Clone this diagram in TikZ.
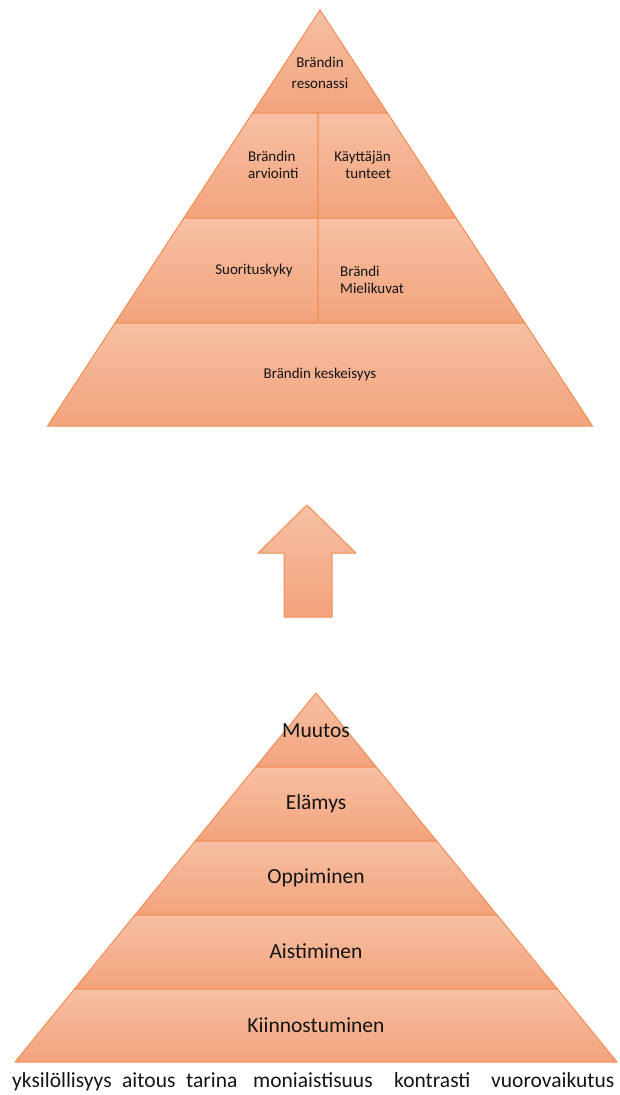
\documentclass[tikz,border=0pt]{standalone}
\usepackage{fontspec}
\setmainfont{Carlito}
\begin{document}
\begin{tikzpicture}[x=1pt,y=-1pt,
  seg/.style={top color=segTop,bottom color=segBot,draw=segLine,line width=1pt,line join=round},
  small/.style={font=\fontsize{15}{17}\selectfont,text=txt,inner sep=0pt},
  big/.style={font=\fontsize{21.5}{25}\selectfont,text=txt,inner sep=0pt},
  word/.style={font=\fontsize{21.5}{25}\selectfont,text=txt,inner sep=0pt,anchor=base west},
]
\definecolor{segTop}{RGB}{247,192,164}
\definecolor{segBot}{RGB}{243,163,124}
\definecolor{segLine}{RGB}{241,142,84}
\definecolor{txt}{RGB}{20,20,20}
\useasboundingbox (0,0) rectangle (619,1095);

% upper pyramid: brand resonance levels
\shade[seg] (320,10) -- (387.5,113) -- (252.5,113) -- cycle;
\shade[seg] (252.5,113) -- (318,113) -- (318,218) -- (183.8,218) -- cycle;
\shade[seg] (318,113) -- (387.5,113) -- (456.2,218) -- (318,218) -- cycle;
\shade[seg] (183.8,218) -- (318,218) -- (318,323) -- (115,323) -- cycle;
\shade[seg] (318,218) -- (456.2,218) -- (525,323) -- (318,323) -- cycle;
\shade[seg] (115,323) -- (525,323) -- (592.5,426) -- (47.5,426) -- cycle;

\node[small,align=center,font=\fontsize{15}{21.5}\selectfont] (reso) at (320,73) {Brändin\\resonassi};
\node[small,align=left,anchor=west] (arvi) at (248,165) {Brändin\\arviointi};
\node[small,align=right,anchor=east] (tunt) at (391,165) {Käyttäjän\\tunteet};
\node[small] (suor) at (254,270) {Suorituskyky};
\node[small,align=left,anchor=west] (miel) at (340,280) {Brändi\\Mielikuvat};
\node[small] (kesk) at (320,374) {Brändin keskeisyys};

% block arrow between the pyramids
\shade[seg] (307,505) -- (356,553) -- (332,553) -- (332,617) -- (284,617) -- (284,553) -- (258,553) -- cycle;

% lower pyramid: experience levels
\shade[seg] (316,693) -- (376.4,767) -- (255.6,767) -- cycle;
\shade[seg] (255.6,767) -- (376.4,767) -- (436.7,841) -- (195.3,841) -- cycle;
\shade[seg] (195.3,841) -- (436.7,841) -- (497.1,915) -- (134.9,915) -- cycle;
\shade[seg] (134.9,915) -- (497.1,915) -- (557.5,989) -- (74.5,989) -- cycle;
\shade[seg] (74.5,989) -- (557.5,989) -- (617,1062) -- (15,1062) -- cycle;

\node[big] (muut) at (316,731) {Muutos};
\node[big] (elam) at (316,804) {Elämys};
\node[big] (oppi) at (316,878) {Oppiminen};
\node[big] (aist) at (316,951) {Aistiminen};
\node[big] (kiin) at (316,1025) {Kiinnostuminen};

% elements listed under the base
\node[word] (yksi) at (12,1087) {yksilöllisyys};
\node[word] (aito) at (122,1087) {aitous};
\node[word] (tari) at (186,1087) {tarina};
\node[word] (moni) at (253,1087) {moniaistisuus};
\node[word] (kont) at (394,1087) {kontrasti};
\node[word] (vuor) at (491,1087) {vuorovaikutus};
\end{tikzpicture}
\end{document}
